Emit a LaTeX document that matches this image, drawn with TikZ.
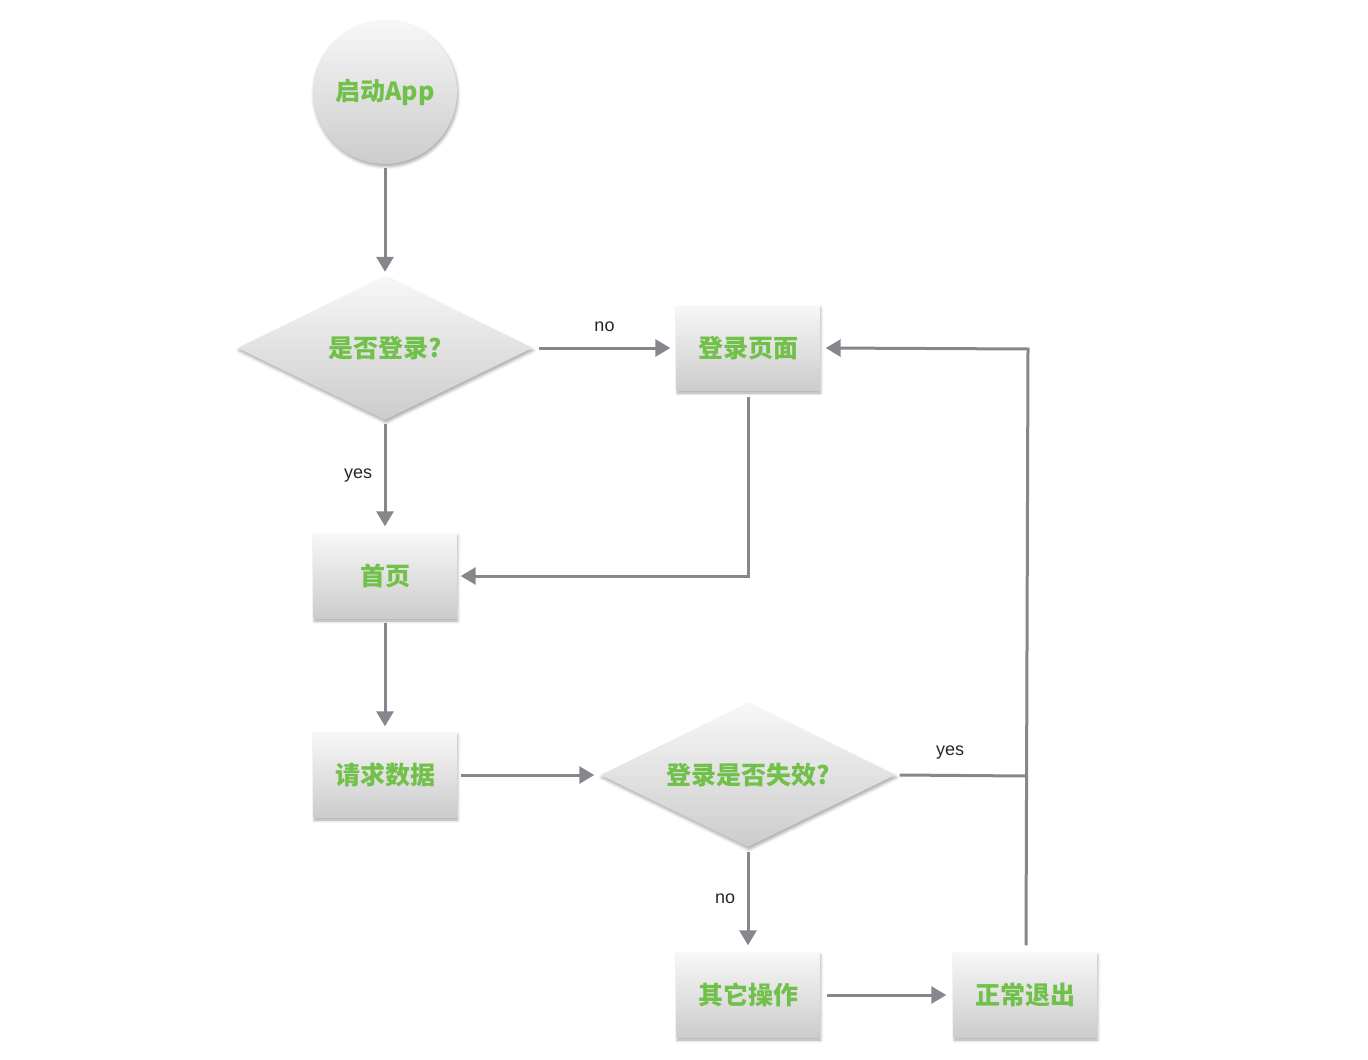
\documentclass[tikz,border=0pt]{standalone}
\usepackage{fontspec}
\setmainfont{Liberation Sans}
\newfontfamily\cjk{Noto Sans CJK SC}
\usetikzlibrary{shapes.geometric,arrows.meta,shadows.blur}
\definecolor{linegray}{RGB}{134,135,140}
\definecolor{labelgreen}{RGB}{112,192,74}
\begin{document}
\begin{tikzpicture}[x=1pt,y=-1pt,
  base/.style={inner sep=0pt, font=\cjk\bfseries\fontsize{25}{25}\selectfont,
    text=labelgreen, top color=white!97!black, bottom color=black!20,
    blur shadow={shadow xshift=1pt, shadow yshift=-2.5pt, shadow blur radius=3pt, shadow opacity=35}},
  stepbox/.style={base, rectangle, minimum width=143pt, minimum height=85pt},
  decision/.style={base, diamond, shape aspect=2, minimum width=295pt, minimum height=144pt},
  startnode/.style={base, circle, minimum size=144pt},
  flow/.style={draw=linegray, line width=3pt, -{Triangle[length=15pt,width=17pt]}},
  plain/.style={draw=linegray, line width=3pt},
  lbl/.style={font=\fontsize{18}{18}\selectfont, text=black!85}]
\useasboundingbox (0,0) rectangle (1368,1060);

% nodes
\node[startnode] (start) at (385,92) {启动App};
\node[decision] (login?) at (385,348) {是否登录?};
\node[stepbox] (loginpage) at (748,348) {登录页面};
\node[stepbox] (home) at (385,576) {首页};
\node[stepbox] (request) at (385,775) {请求数据};
\node[decision] (expired?) at (748,775) {登录是否失效?};
\node[stepbox] (other) at (748,995) {其它操作};
\node[stepbox] (quit) at (1025,995) {正常退出};

% helper points for the elbow connectors
\coordinate (hometurn) at (748,576);
\coordinate (join) at (1026,776);
\coordinate (topturn) at (1028,349);

% connectors
\draw[flow] ([yshift=-4pt]start.south) -- ([yshift=4pt]login?.north);
\draw[flow] ([xshift=6pt]login?.east) -- node[lbl, above=11pt] {no} ([xshift=-6pt]loginpage.west);
\draw[flow] ([yshift=-4pt]login?.south) -- node[lbl, left=8pt] {yes} ([yshift=7pt]home.north);
\draw[flow] ([yshift=-6pt]loginpage.south) -- (hometurn) -- ([xshift=4pt]home.east);
\draw[flow] ([yshift=-4pt]home.south) -- ([yshift=6pt]request.north);
\draw[flow] ([xshift=4pt]request.east) -- ([xshift=-6pt]expired?.west);
\draw[plain] ([xshift=4pt]expired?.east) -- node[lbl, above=11pt, pos=0.4] {yes} (join);
\draw[flow] ([xshift=1pt,yshift=7pt]quit.north) -- (topturn) -- ([xshift=6pt]loginpage.east);
\draw[flow] ([yshift=-5pt]expired?.south) -- node[lbl, left=8pt] {no} ([yshift=7pt]other.north);
\draw[flow] ([xshift=7pt]other.east) -- ([xshift=-7pt]quit.west);
\end{tikzpicture}
\end{document}
